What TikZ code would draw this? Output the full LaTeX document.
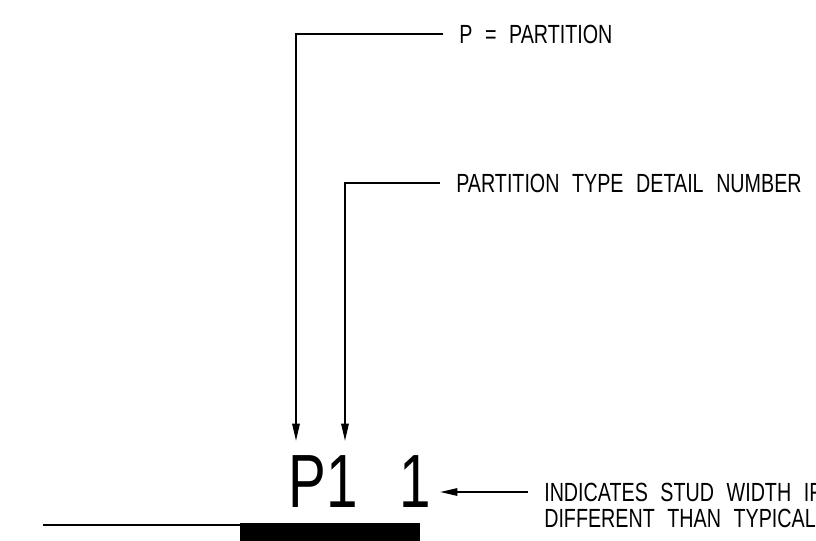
\documentclass[tikz,border=0pt]{standalone}
\usepackage{fontspec}
\newfontfamily\cadfont[FakeStretch=0.75,WordSpace=2.3]{Liberation Sans}
\usetikzlibrary{arrows.meta, positioning}

\begin{document}
\begin{tikzpicture}[x = 0.75pt, y = -0.75pt]
	\tikzstyle{leader}=[draw,line width = 1.4pt,-{Triangle[length=13pt,width=5.5pt]},black!100]
	\tikzstyle{note}=[inner xsep=12pt,inner ysep=0pt,font=\cadfont\fontsize{19.7}{22}\selectfont]
	\tikzstyle{tagtext}=[inner sep=0pt,font=\cadfont\fontsize{56.6}{60}\selectfont]
	\clip (0,0) rectangle (816,540);
	% wall line and partition
	\draw[line width = 1.5pt] (43,525) -- (240,525);
	\fill[black] (240,523) rectangle (420,541);
	% tag
	\node[tagtext,anchor=base west] (ptype) at (288,507) {P1};
	\node[tagtext,anchor=base east] (stud) at (431,507) {1};
	% notes
	\node[note,anchor=west] (pnote) at (443,34) {P = PARTITION};
	\node[note,anchor=west] (tnote) at (440,183) {PARTITION TYPE DETAIL NUMBER};
	\node[note,anchor=west] (snote) at (528,492) {INDICATES STUD WIDTH IF};
	\node[note,anchor=north west] (snote2) at ([yshift=-5.5pt]snote.south west) {DIFFERENT THAN TYPICAL};
	\coordinate (tipP) at (296,441);
	\coordinate (tipT) at (345,441);
	\coordinate (tipS) at (440,492);
	% leaders
	\draw[leader] (pnote.west) -| (tipP);
	\draw[leader] (tnote.west) -| (tipT);
	\draw[leader] (snote.west) -- (tipS);
\end{tikzpicture}
\end{document}
